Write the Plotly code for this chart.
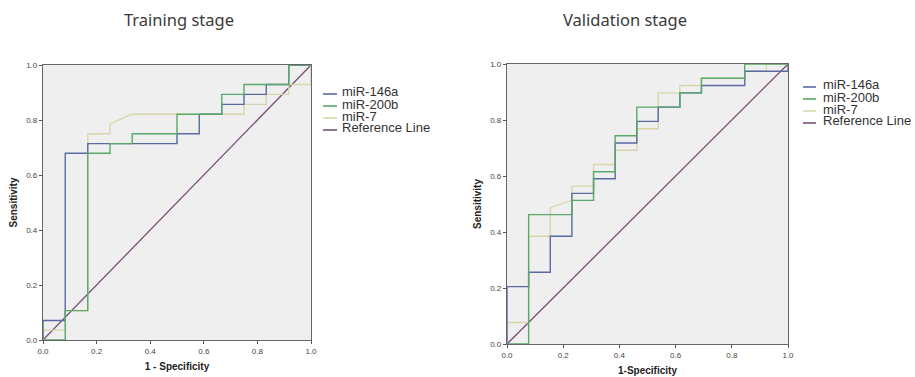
import plotly.graph_objects as go

# ---------------- data (ROC coordinates) ----------------
series_names = ["miR-146a", "miR-200b", "miR-7", "Reference Line"]
series_colors = ["#5a6aa3", "#5aa86a", "#d9d6ac", "#7a4f78"]

# Training stage
train_146a_fpr = [0, 0, 0.083, 0.083, 0.167, 0.167, 0.5, 0.5, 0.583, 0.583, 0.667, 0.667, 0.75, 0.75, 0.833, 0.833, 0.917, 0.917, 1.0]
train_146a_tpr = [0, 0.071, 0.071, 0.679, 0.679, 0.714, 0.714, 0.75, 0.75, 0.821, 0.821, 0.857, 0.857, 0.893, 0.893, 0.929, 0.929, 1.0, 1.0]
train_200b_fpr = [0, 0.083, 0.083, 0.167, 0.167, 0.25, 0.25, 0.333, 0.333, 0.5, 0.5, 0.667, 0.667, 0.75, 0.75, 0.917, 0.917, 1.0]
train_200b_tpr = [0, 0, 0.107, 0.107, 0.679, 0.679, 0.714, 0.714, 0.75, 0.75, 0.821, 0.821, 0.893, 0.893, 0.929, 0.929, 1.0, 1.0]
train_7_fpr = [0, 0, 0.083, 0.083, 0.167, 0.167, 0.25, 0.25, 0.333, 0.75, 0.75, 0.833, 0.833, 0.917, 0.917, 1.0, 1.0]
train_7_tpr = [0, 0.036, 0.036, 0.107, 0.107, 0.75, 0.75, 0.786, 0.821, 0.821, 0.857, 0.857, 0.893, 0.893, 0.929, 0.929, 1.0]

# Validation stage
val_146a_fpr = [0, 0, 0.077, 0.077, 0.154, 0.154, 0.231, 0.231, 0.308, 0.308, 0.385, 0.385, 0.462, 0.462, 0.538, 0.538, 0.615, 0.615, 0.692, 0.692, 0.846, 0.846, 1.0, 1.0]
val_146a_tpr = [0, 0.205, 0.205, 0.256, 0.256, 0.385, 0.385, 0.538, 0.538, 0.590, 0.590, 0.718, 0.718, 0.795, 0.795, 0.846, 0.846, 0.897, 0.897, 0.923, 0.923, 0.974, 0.974, 1.0]
val_200b_fpr = [0, 0.077, 0.077, 0.231, 0.231, 0.308, 0.308, 0.385, 0.385, 0.462, 0.462, 0.615, 0.615, 0.692, 0.692, 0.846, 0.846, 1.0]
val_200b_tpr = [0, 0, 0.462, 0.462, 0.513, 0.513, 0.615, 0.615, 0.744, 0.744, 0.846, 0.846, 0.897, 0.897, 0.949, 0.949, 1.0, 1.0]
val_7_fpr = [0, 0, 0.077, 0.077, 0.154, 0.154, 0.231, 0.231, 0.308, 0.308, 0.385, 0.385, 0.462, 0.462, 0.538, 0.538, 0.615, 0.615, 0.692, 0.692, 0.846, 0.846, 0.923, 0.923, 1.0]
val_7_tpr = [0, 0.077, 0.077, 0.385, 0.385, 0.487, 0.513, 0.564, 0.564, 0.641, 0.641, 0.692, 0.692, 0.769, 0.769, 0.897, 0.897, 0.923, 0.923, 0.949, 0.949, 0.974, 0.974, 1.0, 1.0]

ref_line = [0, 1]
tick_vals = [0, 0.2, 0.4, 0.6, 0.8, 1.0]
tick_text = ["0.0", "0.2", "0.4", "0.6", "0.8", "1.0"]
panel_titles = ["Training stage", "Validation stage"]
x_titles = ["1 - Specificity", "1-Specificity"]
y_title = "Sensitivity"

# ---------------- figure ----------------
fig = go.Figure()

panels = [
    ("x", "y", [(train_146a_fpr, train_146a_tpr), (train_200b_fpr, train_200b_tpr), (train_7_fpr, train_7_tpr)]),
    ("x2", "y2", [(val_146a_fpr, val_146a_tpr), (val_200b_fpr, val_200b_tpr), (val_7_fpr, val_7_tpr)]),
]

for xa, ya, curves in panels:
    fig.add_trace(go.Scatter(x=ref_line, y=ref_line, mode="lines", xaxis=xa, yaxis=ya,
                             line=dict(color=series_colors[3], width=1.3),
                             name=series_names[3], showlegend=False, hoverinfo="skip"))
    for i in [2, 0, 1]:
        fx, ty = curves[i]
        fig.add_trace(go.Scatter(x=fx, y=ty, mode="lines", xaxis=xa, yaxis=ya,
                                 line=dict(color=series_colors[i], width=1.4),
                                 name=series_names[i], showlegend=False))

W, H = 915, 377
def px(x):
    return x / W
def py(y):
    return 1 - y / H

tick_font = dict(family="Liberation Sans, Arial, sans-serif", size=8, color="#444")
title_font = dict(family="Liberation Sans, Arial, sans-serif", size=10, color="#222")

axis_common = dict(range=[0, 1], tickvals=tick_vals, ticktext=tick_text, showgrid=False,
                   zeroline=False, showline=True, linecolor="#666", linewidth=1.2, mirror=True,
                   ticks="outside", ticklen=3, tickcolor="#555", tickfont=tick_font,
                   fixedrange=True, automargin=False)

fig.update_layout(
    width=W, height=H,
    margin=dict(l=0, r=0, t=0, b=0, autoexpand=False),
    paper_bgcolor="white",
    plot_bgcolor="#efefef",
    showlegend=False,
    xaxis=dict(domain=[px(43), px(311)], anchor="y",
               title=dict(text="<b>" + x_titles[0] + "</b>", font=title_font, standoff=8), **axis_common),
    yaxis=dict(domain=[py(340), py(65)], anchor="x",
               title=dict(text="<b>" + y_title + "</b>", font=title_font, standoff=6), **axis_common),
    xaxis2=dict(domain=[px(507), px(788)], anchor="y2",
                title=dict(text="<b>" + x_titles[1] + "</b>", font=title_font, standoff=8), **axis_common),
    yaxis2=dict(domain=[py(344), py(64)], anchor="x2",
                title=dict(text="<b>" + y_title + "</b>", font=title_font, standoff=6), **axis_common),
)

# panel titles
title_font_big = dict(family="Noto Sans, Liberation Sans, sans-serif", size=16.5, color="#3a3a3a")
for cx, txt in [(179, panel_titles[0]), (625, panel_titles[1])]:
    fig.add_annotation(x=px(cx), y=py(20), xref="paper", yref="paper", text=txt,
                       showarrow=False, xanchor="center", yanchor="middle", font=title_font_big)

# compact SPSS-style legends (line sample + label)
legend_font = dict(family="Liberation Sans, Arial, sans-serif", size=13, color="#333")
legend_specs = [
    (323, 337, 341, [92, 104, 116, 128]),
    (803, 816, 822, [85, 97, 109, 121]),
]
for lx0, lx1, tx, rows in legend_specs:
    for k, ry in enumerate(rows):
        fig.add_shape(type="line", xref="paper", yref="paper",
                      x0=px(lx0), x1=px(lx1), y0=py(ry + 2), y1=py(ry + 2),
                      line=dict(color=series_colors[k], width=1.6))
        fig.add_annotation(x=px(tx), y=py(ry), xref="paper", yref="paper", text=series_names[k],
                           showarrow=False, xanchor="left", yanchor="middle", font=legend_font,
                           borderpad=0)

fig.write_html("out.html", config={"displayModeBar": False},
               post_script="document.body.style.margin='0';document.body.style.overflow='hidden';")
